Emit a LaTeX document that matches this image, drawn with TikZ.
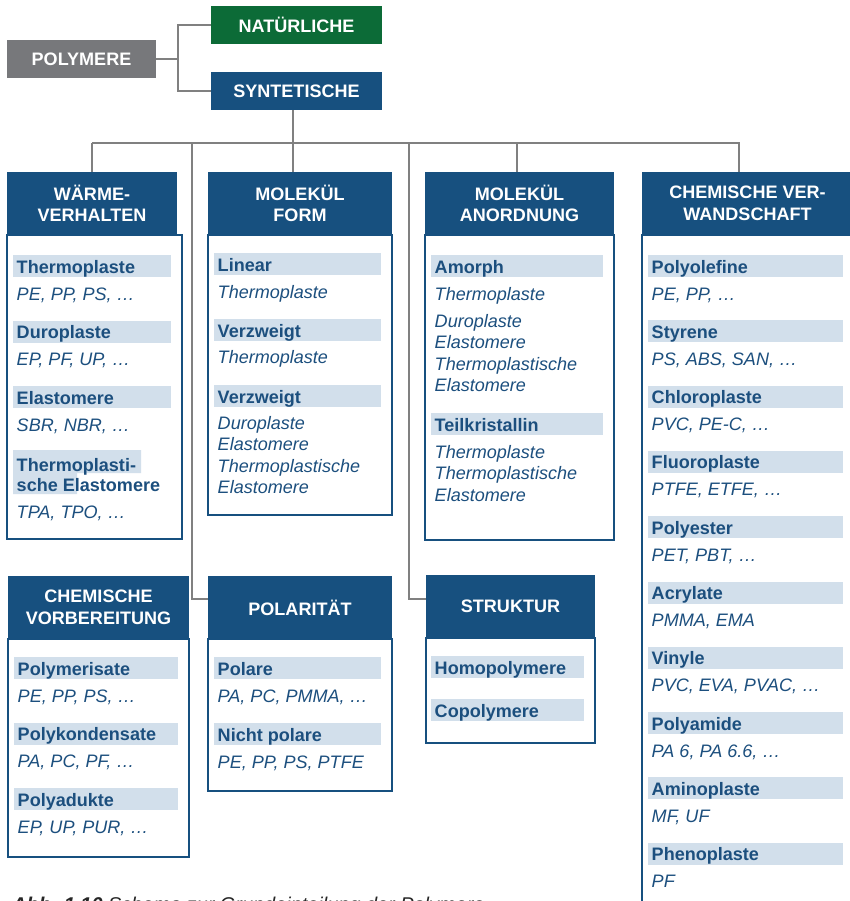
\documentclass[tikz,border=0pt]{standalone}
\usepackage{fontspec}
\setmainfont{Liberation Sans}
\usepackage{tikz}
\usetikzlibrary{positioning, calc}
\definecolor{headblue}{HTML}{17507F}
\definecolor{natgreen}{HTML}{0C6B37}
\definecolor{rootgray}{HTML}{77787B}
\definecolor{bandblue}{HTML}{D2DFEB}
\definecolor{textblue}{HTML}{1C4F7E}
\definecolor{linegray}{HTML}{808080}
\newcommand{\diafont}{\fontsize{15.4}{18.4}\selectfont}
\tikzset{
  % box size given in pixels
  boxsize/.style 2 args={minimum width=#1*0.03cm, minimum height=#2*0.03cm},
  % filled header box
  headbox/.style={fill=#1, text=white, font=\diafont\bfseries,
                  align=center, inner sep=0pt},
  % white list box under a header
  listframe/.style={draw=headblue, fill=white, line width=1.1pt},
  % grey tree line
  conn/.style={draw=linegray, line width=1.6pt},
  % bold group title on a light band
  grouptitle/.style={anchor=base west, inner sep=0pt, text=textblue,
                     font=\diafont\bfseries},
  % italic examples
  example/.style={anchor=base west, inner sep=0pt, text=textblue,
                  font=\diafont\itshape},
  caption/.style={anchor=base west, inner sep=0pt, text=black!85,
                  font=\fontsize{17}{20}\selectfont\itshape},
}
% band + bold title: name, left, right, top, title
\newcommand{\groupband}[5]{%
  \fill[bandblue] (#2,#4) rectangle (#3,#4+22);
  \node[grouptitle] (#1) at (#2+3.5,#4+18) {#5};%
}
% lines of examples: name, left, first baseline, lines
\newcommand{\examples}[4]{%
  \foreach \exline [count=\i from 0] in {#4}
    \node[example] (#1-\i) at (#2,#3+21.5*\i) {\exline};%
}

\begin{document}
\begin{tikzpicture}[x=0.03cm, y=-0.03cm]
  \useasboundingbox (0,0) rectangle (850,901);
  \clip (0,0) rectangle (850,901);

  % root and the two kinds
  \node[headbox=rootgray, boxsize={149}{38}] (polymere) at (81.5,59) {POLYMERE};
  \node[headbox=natgreen, boxsize={171}{38}] (natur) at (296.5,25) {NATÜRLICHE};
  \node[headbox=headblue, boxsize={171}{38}] (synth) at (296.5,91) {SYNTETISCHE};
  \coordinate (fork) at (178,59);
  \draw[conn] (polymere.east) -- (fork);
  \draw[conn] (natur.west) -| (fork) |- (synth.west);

  % list frames
  \foreach \xa/\ya/\xb/\yb in {7/235/182/539, 208/235/392/515,
                               425/235/614/540, 642/235/853/906,
                               8/639/189/857, 208/639/392/791,
                               426/638/595/743}
    \draw[listframe] (\xa,\ya) rectangle (\xb,\yb);

  % category headers
  \node[headbox=headblue, boxsize={170}{63}] (waerme) at (92,203.5) {WÄRME-\\VERHALTEN};
  \node[headbox=headblue, boxsize={184}{63}] (form) at (300,203.5) {MOLEKÜL\\FORM};
  \node[headbox=headblue, boxsize={189}{63}] (anord) at (519.5,203.5) {MOLEKÜL\\ANORDNUNG};
  \node[headbox=headblue, boxsize={211}{63}] (verw) at (747.5,203.5) {CHEMISCHE VER-\\WANDSCHAFT};
  \node[headbox=headblue, boxsize={181}{63}] (vorb) at (98.5,607.5) {CHEMISCHE\\VORBEREITUNG};
  \node[headbox=headblue, boxsize={184}{63}] (polar) at (300,607.5) {POLARITÄT};
  \node[headbox=headblue, boxsize={169}{63}] (struktur) at (510.5,606.5) {STRUKTUR};

  % tree lines below SYNTETISCHE
  \coordinate (busM) at (293,143);
  \coordinate (elbowP) at (192,599);
  \coordinate (elbowS) at (409,599);
  \draw[conn] (synth.south -| busM) -- (busM);
  \draw[conn] (92,143) -- (740,143);
  \foreach \dx/\hd in {92/waerme, 293/form, 517/anord, 739/verw}
    \draw[conn] (\dx,143) -- (\dx,143 |- \hd.north);
  \draw[conn] (192,143) -- (elbowP) -- (elbowP -| polar.west);
  \draw[conn] (409,143) -- (elbowS) -- (elbowS -| struktur.west);

  % Waermeverhalten
  \foreach \ttl/\exs [count=\i from 0] in {Thermoplaste/{PE, PP, PS, …},
      Duroplaste/{EP, PF, UP, …}, Elastomere/{SBR, NBR, …}} {
    \groupband{waerme-g\i}{13}{171}{255+65.5*\i}{\ttl}
    \node[example] (waerme-x\i) at (16.5,300+65.5*\i) {\exs};
  }
  \fill[bandblue] (13,450) rectangle (141,473) (13,473) rectangle (77,494);
  \node[grouptitle] (waerme-g3a) at (16.5,471) {Thermoplasti-};
  \node[grouptitle] (waerme-g3b) at (16.5,491) {sche Elastomere};
  \node[example] (waerme-x3) at (16.5,518) {TPA, TPO, …};

  % Molekuelform
  \groupband{form-g0}{214}{381}{253}{Linear}
  \examples{form-x0}{217.5}{298}{Thermoplaste}
  \groupband{form-g1}{214}{381}{319}{Verzweigt}
  \examples{form-x1}{217.5}{363}{Thermoplaste}
  \groupband{form-g2}{214}{381}{385}{Verzweigt}
  \examples{form-x2}{217.5}{429}{Duroplaste, Elastomere, Thermoplastische, Elastomere}

  % Molekuelanordnung
  \groupband{anord-g0}{431}{603}{255}{Amorph}
  \examples{anord-x0}{434.5}{300}{Thermoplaste}
  \examples{anord-y0}{434.5}{327}{Duroplaste, Elastomere, Thermoplastische, Elastomere}
  \groupband{anord-g1}{431}{603}{413}{Teilkristallin}
  \examples{anord-x1}{434.5}{458}{Thermoplaste, Thermoplastische, Elastomere}

  % chemische Verwandschaft
  \foreach \ttl/\exs [count=\i from 0] in {Polyolefine/{PE, PP, …},
      Styrene/{PS, ABS, SAN, …}, Chloroplaste/{PVC, PE-C, …},
      Fluoroplaste/{PTFE, ETFE, …}, Polyester/{PET, PBT, …},
      Acrylate/{PMMA, EMA}, Vinyle/{PVC, EVA, PVAC, …},
      Polyamide/{PA 6, PA 6.6, …}, Aminoplaste/{MF, UF}, Phenoplaste/PF} {
    \groupband{verw-g\i}{648}{843}{255+65.3*\i}{\ttl}
    \node[example] (verw-x\i) at (651.5,300+65.3*\i) {\exs};
  }

  % chemische Vorbereitung
  \foreach \ttl/\exs [count=\i from 0] in {Polymerisate/{PE, PP, PS, …},
      Polykondensate/{PA, PC, PF, …}, Polyadukte/{EP, UP, PUR, …}} {
    \groupband{vorb-g\i}{14}{178}{657+65.5*\i}{\ttl}
    \node[example] (vorb-x\i) at (17.5,702+65.5*\i) {\exs};
  }

  % Polaritaet
  \foreach \ttl/\exs [count=\i from 0] in {Polare/{PA, PC, PMMA, …},
      Nicht polare/{PE, PP, PS, PTFE}} {
    \groupband{polar-g\i}{214}{381}{657+66*\i}{\ttl}
    \node[example] (polar-x\i) at (217.5,702+66*\i) {\exs};
  }

  % Struktur
  \groupband{struk-g0}{431}{584}{656}{Homopolymere}
  \groupband{struk-g1}{431}{584}{699}{Copolymere}

  % caption, cut by the page edge
  \node[caption] (caption) at (12,911) {\textbf{Abb. 1.10} Schema zur Grundeinteilung der Polymere};
\end{tikzpicture}
\end{document}
